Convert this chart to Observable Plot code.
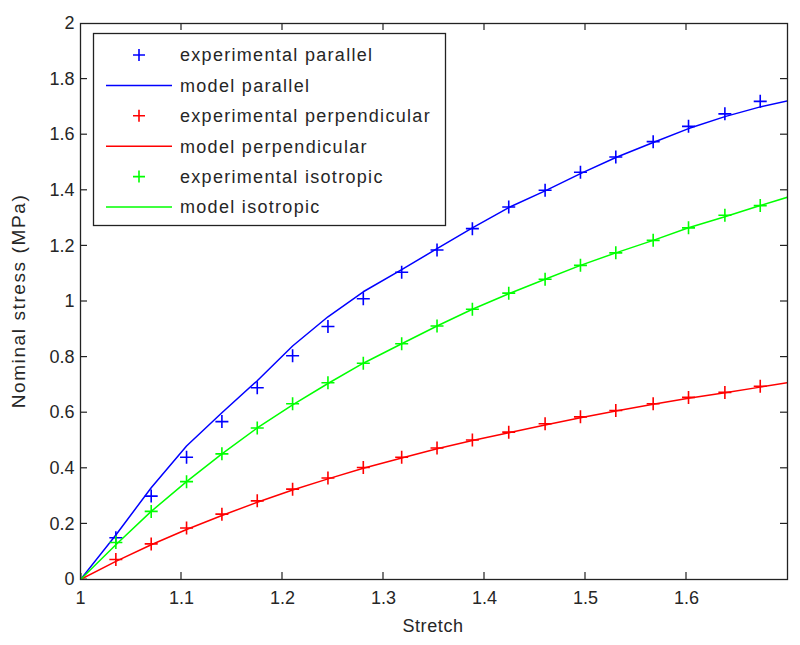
<!DOCTYPE html>
<html><head><meta charset="utf-8">
<script src="https://cdn.jsdelivr.net/npm/d3@7"></script>
<script src="https://cdn.jsdelivr.net/npm/@observablehq/plot@0.6"></script>
<style>
body{margin:0;background:#fff;}
#chart{position:relative;width:800px;height:645px;}
</style>
</head><body><div id="chart"></div>
<script>
// ---- data ----
const expX = [1.0, 1.035, 1.07, 1.105, 1.14, 1.175, 1.21, 1.245, 1.28, 1.318, 1.353, 1.388, 1.424, 1.46, 1.495, 1.53, 1.567, 1.602, 1.638, 1.673];
const expParallel = [0, 0.15, 0.30, 0.44, 0.568, 0.69, 0.805, 0.91, 1.01, 1.105, 1.185, 1.262, 1.34, 1.40, 1.465, 1.52, 1.575, 1.63, 1.675, 1.72];
const expPerpendicular = [0, 0.072, 0.128, 0.185, 0.235, 0.283, 0.325, 0.365, 0.403, 0.44, 0.473, 0.502, 0.53, 0.56, 0.585, 0.608, 0.632, 0.655, 0.673, 0.695];
const expIsotropic = [0, 0.133, 0.245, 0.352, 0.452, 0.545, 0.632, 0.708, 0.778, 0.848, 0.912, 0.972, 1.03, 1.08, 1.13, 1.175, 1.22, 1.265, 1.31, 1.345];

const modelX = [1.0, 1.035, 1.07, 1.105, 1.14, 1.175, 1.21, 1.245, 1.28, 1.318, 1.353, 1.388, 1.424, 1.46, 1.495, 1.53, 1.567, 1.602, 1.638, 1.673, 1.7];
const modelParallel = [0, 0.16, 0.33, 0.48, 0.60, 0.715, 0.84, 0.945, 1.035, 1.115, 1.19, 1.265, 1.338, 1.398, 1.46, 1.518, 1.572, 1.622, 1.665, 1.70, 1.722];
const modelPerpendicular = [0, 0.065, 0.125, 0.18, 0.23, 0.278, 0.322, 0.362, 0.4, 0.437, 0.47, 0.5, 0.528, 0.556, 0.582, 0.606, 0.63, 0.652, 0.672, 0.692, 0.708];
const modelIsotropic = [0, 0.125, 0.245, 0.352, 0.452, 0.545, 0.628, 0.705, 0.778, 0.848, 0.912, 0.972, 1.028, 1.08, 1.13, 1.175, 1.22, 1.265, 1.305, 1.345, 1.375];

const xDomain = [1, 1.7];
const yDomain = [0, 2];
const xTicks = [1, 1.1, 1.2, 1.3, 1.4, 1.5, 1.6];
const xTickLabels = ["1", "1.1", "1.2", "1.3", "1.4", "1.5", "1.6"];
const yTicks = [0, 0.2, 0.4, 0.6, 0.8, 1, 1.2, 1.4, 1.6, 1.8, 2];
const yTickLabels = ["0", "0.2", "0.4", "0.6", "0.8", "1", "1.2", "1.4", "1.6", "1.8", "2"];
const xLabel = "Stretch";
const yLabel = "Nominal stress (MPa)";

const seriesNames = ["experimental parallel", "model parallel", "experimental perpendicular", "model perpendicular", "experimental isotropic", "model isotropic"];
const seriesColors = ["#0000ff", "#0000ff", "#ff0000", "#ff0000", "#00ff00", "#00ff00"];
const seriesKinds = ["marker", "line", "marker", "line", "marker", "line"];

// ---- build tables ----
const expSeries = [expParallel, expPerpendicular, expIsotropic];
const modelSeries = [modelParallel, modelPerpendicular, modelIsotropic];
const sColors = ["#0000ff", "#ff0000", "#00ff00"];

const plusSymbol = {
  draw(ctx, size) {
    const r = Math.sqrt(size / Math.PI);
    ctx.moveTo(-r, 0); ctx.lineTo(r, 0);
    ctx.moveTo(0, -r); ctx.lineTo(0, r);
  }
};

const marks = [];
for (let s = 0; s < 3; s++) {
  const ex = expX.map((x, i) => ({x, y: expSeries[s][i]}));
  const md = modelX.map((x, i) => ({x, y: modelSeries[s][i]}));
  marks.push(Plot.dot(ex, {x: "x", y: "y", symbol: plusSymbol, r: 6.5, stroke: sColors[s], strokeWidth: 1.6, fill: "none", clip: true}));
  marks.push(Plot.line(md, {x: "x", y: "y", stroke: sColors[s], strokeWidth: 1.5, clip: true}));
}

const plot = Plot.plot({
  width: 800,
  height: 645,
  marginTop: 23,
  marginBottom: 66,
  marginLeft: 80,
  marginRight: 13,
  style: {fontFamily: "'Liberation Sans', Arial, sans-serif", fontSize: "18px", color: "#262626", background: "#fff"},
  x: {domain: xDomain},
  y: {domain: yDomain},
  marks: [
    ...marks,
    Plot.frame({stroke: "#222", strokeWidth: 1.3}),
    Plot.axisX({ticks: xTicks, tickSize: 0, tickPadding: 12, label: null, fontSize: 18, tickFormat: d => xTickLabels[xTicks.indexOf(d)]}),
    Plot.axisY({ticks: yTicks, tickSize: 0, tickPadding: 6, label: null, fontSize: 18, tickFormat: d => yTickLabels[yTicks.indexOf(d)]})
  ]
});
document.getElementById("chart").appendChild(plot);

// ---- inward ticks via the plot's scales ----
const svg = d3.select(plot);
const sx = plot.scale("x"), sy = plot.scale("y");
const X0 = sx.apply(xDomain[0]), X1 = sx.apply(xDomain[1]);
const Y0 = sy.apply(yDomain[0]), Y1 = sy.apply(yDomain[1]);
const tl = 7;
const tg = svg.append("g").attr("stroke", "#222").attr("stroke-width", 1.2);
xTicks.slice(1).forEach(v => {
  const px = sx.apply(v);
  tg.append("line").attr("x1", px).attr("x2", px).attr("y1", Y0).attr("y2", Y0 - tl);
  tg.append("line").attr("x1", px).attr("x2", px).attr("y1", Y1).attr("y2", Y1 + tl);
});
yTicks.slice(1, -1).forEach(v => {
  const py = sy.apply(v);
  tg.append("line").attr("x1", X0).attr("x2", X0 + tl).attr("y1", py).attr("y2", py);
  tg.append("line").attr("x1", X1).attr("x2", X1 - tl).attr("y1", py).attr("y2", py);
});

// ---- axis titles and legend ----
const font = "'Liberation Sans', Arial, sans-serif";
svg.append("text").attr("x", 433).attr("y", 632).attr("text-anchor", "middle")
  .attr("font-family", font).attr("font-size", 18).attr("letter-spacing", "0.6px").attr("fill", "#262626").text(xLabel);
svg.append("text").attr("transform", "translate(25,301) rotate(-90)").attr("text-anchor", "middle")
  .attr("font-family", font).attr("font-size", 19).attr("letter-spacing", "1.6px").attr("fill", "#262626").text(yLabel);

const lg = svg.append("g");
lg.append("rect").attr("x", 93.5).attr("y", 33.5).attr("width", 352).attr("height", 192)
  .attr("fill", "#fff").attr("stroke", "#222").attr("stroke-width", 1.3);
seriesNames.forEach((name, i) => {
  const cy = 55 + i * 30.4;
  if (seriesKinds[i] === "line") {
    lg.append("line").attr("x1", 106).attr("x2", 172).attr("y1", cy).attr("y2", cy)
      .attr("stroke", seriesColors[i]).attr("stroke-width", 1.5);
  } else {
    lg.append("path").attr("d", `M${133},${cy}H${145}M${139},${cy - 6}V${cy + 6}`)
      .attr("stroke", seriesColors[i]).attr("stroke-width", 1.6).attr("fill", "none");
  }
  lg.append("text").attr("x", 180).attr("y", cy).attr("dy", "0.35em").attr("text-anchor", "start")
    .attr("font-family", font).attr("font-size", 18).attr("letter-spacing", "1.3px").attr("fill", "#262626").text(name);
});
</script>
</body></html>
